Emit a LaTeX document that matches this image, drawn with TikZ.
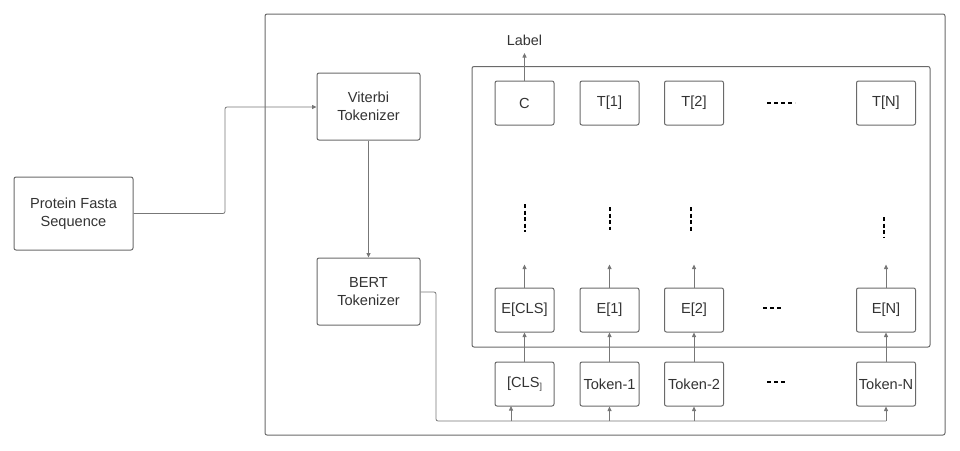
\documentclass[tikz,border=0pt]{standalone}
\usepackage{fontspec}
\setmainfont{Liberation Sans}
\usetikzlibrary{arrows.meta}
\definecolor{boxline}{HTML}{6A6A6A}
\definecolor{txt}{HTML}{333333}
\definecolor{conn}{HTML}{777777}
\tikzset{
  box/.style={draw=boxline, line width=1pt, rounded corners=2pt, align=center,
    text=txt, font=\fontsize{14.6}{17.5}\selectfont, inner sep=0pt},
  cell/.style={box, minimum width=59pt, minimum height=44pt},
  conline/.style={draw=conn, line width=0.8pt},
  arr/.style={conline, -{Triangle[length=4.5pt,width=4pt]}},
  vdots/.style={draw=black, line width=1.6pt, dash pattern=on 4pt off 2.5pt},
  hdots/.style={draw=black, line width=1.3pt, dash pattern=on 4pt off 3pt}
}
\begin{document}
\begin{tikzpicture}[x=1pt,y=-1pt]
\useasboundingbox (0,0) rectangle (960,450);
% containers
\draw[boxline, line width=1pt, rounded corners=2pt] (265,14) rectangle (945,435);
\draw[boxline, line width=1pt, rounded corners=2pt] (472,66.5) rectangle (930,347);
% left nodes
\node[box, minimum width=119pt, minimum height=73pt] (prot) at (73.5,213.5) {Protein Fasta\\Sequence};
\node[box, minimum width=103pt, minimum height=67pt] (vit) at (368.5,106.5) {Viterbi\\Tokenizer};
\node[box, minimum width=103pt, minimum height=67pt] (bert) at (368.5,291.5) {BERT\\Tokenizer};
% rows
\node[cell] (c) at (524.5,103) {C};
\node[cell] (t1) at (609.5,103) {T[1]};
\node[cell] (t2) at (694,103) {T[2]};
\node[cell] (tn) at (886,103) {T[N]};
\node[cell] (ecls) at (524.5,310) {E[CLS]};
\node[cell] (e1) at (609.5,310) {E[1]};
\node[cell] (e2) at (694,310) {E[2]};
\node[cell] (en) at (886,310) {E[N]};
\node[cell] (kcls) at (524.5,384) {[CLS\raisebox{-2pt}{\scalebox{0.6}{]}}};
\node[cell] (k1) at (609.5,384) {Token-1};
\node[cell] (k2) at (694,384) {Token-2};
\node[cell] (kn) at (886,384) {Token-N};
\node[text=txt, font=\fontsize{14.4}{16}\selectfont] (lab) at (524.5,40) {Label};
% connectors
\draw[arr, rounded corners=2pt] (prot.east) -- (225,213.5) -- (225,107) -- (vit.west |- 0,107);
\draw[arr] (vit.south) -- (bert.north);
\draw[arr] (c.north) -- (524.5,53);
\coordinate (b1) at (436,292);
\coordinate (b2) at (436,421);
\coordinate (b3) at (886,421);
\draw[conline, rounded corners=2pt] (bert.east |- b1) -- (b1) -- (b2) -- (b3);
\draw[arr] (511,421) -- (511,406);
\draw[arr] (609.5,421) -- (k1.south);
\draw[arr] (694,421) -- (k2.south);
\draw[arr] (886,421) -- (kn.south);
\foreach \k/\e in {kcls/ecls,k1/e1,k2/e2,kn/en}{
  \draw[arr] (\k.north) -- (\e.south);
  \draw[arr] (\e.north) -- ++(0,-23);
}
% vertical dots
\draw[vdots] (525,204) -- (525,232);
\draw[vdots] (610,207) -- (610,230);
\draw[vdots] (691,207) -- (691,231);
\draw[vdots] (884,217) -- (884,238);
% horizontal dots
\draw[hdots] (767,103) -- (795,103);
\draw[hdots] (763,308) -- (781,308);
\draw[hdots] (767,382) -- (787,382);
\end{tikzpicture}
\end{document}
